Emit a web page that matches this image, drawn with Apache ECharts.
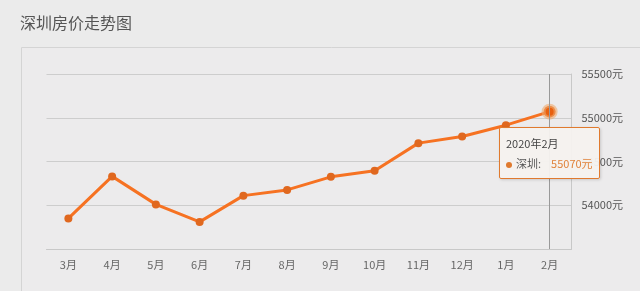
<!DOCTYPE html>
<html><head><meta charset="utf-8">
<script src="https://cdn.jsdelivr.net/npm/echarts@6/dist/echarts.min.js"></script>
<style>html,body{margin:0;padding:0;background:#ebebeb;}#c{width:640px;height:291px;}</style>
</head><body><div id="c"></div>
<script>
var categories = ['3月','4月','5月','6月','7月','8月','9月','10月','11月','12月','1月','2月'];
var tipLabels = ['2019年3月','2019年4月','2019年5月','2019年6月','2019年7月','2019年8月','2019年9月','2019年10月','2019年11月','2019年12月','2020年1月','2020年2月'];
var prices = [53850, 54330, 54010, 53810, 54110, 54175, 54325, 54395, 54710, 54785, 54915, 55070];
var seriesName = '深圳';
var yMin = 53500, yMax = 55500, yStep = 500;

var chart = echarts.init(document.getElementById('c'), null, {renderer:'canvas'});
var font = '"Noto Sans CJK SC", "Noto Sans", sans-serif';
chart.setOption({
  animation: false,
  backgroundColor: '#ebebeb',
  textStyle: {fontFamily: font},
  title: {text: '深圳房价走势图', left: 15, top: 10, textStyle: {fontSize: 16, fontWeight: 'normal', color: '#555', fontFamily: font}},
  graphic: [{type: 'rect', left: 21, top: 47, shape: {width: 640, height: 260}, style: {fill: '#ecebec', stroke: '#d4d4d4', lineWidth: 1}, z: -10}],
  grid: {left: 46.5, right: 68.5, top: 74, bottom: 42},
  tooltip: {
    trigger: 'axis', alwaysShowContent: true,
    axisPointer: {type: 'line', lineStyle: {color: '#999', width: 1, type: 'solid'}},
    backgroundColor: 'rgba(245,242,239,0.95)', borderColor: '#e07a2e', borderWidth: 1, padding: [5, 6],
    extraCssText: 'box-shadow:1px 1px 3px rgba(0,0,0,0.15);border-radius:2px;',
    position: function (pt) { return [pt[0] - 51, pt[1] + 15]; },
    formatter: function (ps) {
      var p = ps[0];
      return '<div style="font-family:' + font.replace(/"/g, "'") + ';font-size:11px;line-height:20px;color:#444">' + tipLabels[p.dataIndex] +
        '<br/><span style="display:inline-block;width:6px;height:6px;border-radius:3px;background:#e07a2e;margin-right:4px;vertical-align:middle"></span>' +
        '<span style="color:#555">' + p.seriesName + ':</span><span style="color:#e0823a;margin-left:10px;font-size:11px">' + p.value + '元</span></div>';
    }
  },
  xAxis: {
    type: 'category', data: categories, boundaryGap: true,
    axisLine: {lineStyle: {color: '#c8c8c8'}},
    axisTick: {alignWithLabel: true, lineStyle: {color: '#c8c8c8'}},
    axisLabel: {color: '#666', fontSize: 11, margin: 10}
  },
  yAxis: {
    type: 'value', position: 'right', min: yMin, max: yMax, interval: yStep,
    axisLine: {show: true, lineStyle: {color: '#c8c8c8'}},
    axisTick: {show: false},
    axisLabel: {color: '#555', fontSize: 11, margin: 10, showMinLabel: false, formatter: function (v) { return v + '元'; }},
    splitLine: {lineStyle: {color: '#cdcdcd'}}
  },
  series: [{
    name: seriesName, type: 'line', data: prices,
    symbol: 'circle', symbolSize: 8,
    lineStyle: {color: '#e0681f', width: 3},
    itemStyle: {color: '#e0681f'},
    emphasis: {scale: 1.5, itemStyle: {color: '#e8600f', borderColor: 'rgba(240,170,110,0.6)', borderWidth: 4}}
  }]
});
chart.dispatchAction({type: 'showTip', seriesIndex: 0, dataIndex: 11});
chart.dispatchAction({type: 'highlight', seriesIndex: 0, dataIndex: 11});
</script></body></html>
